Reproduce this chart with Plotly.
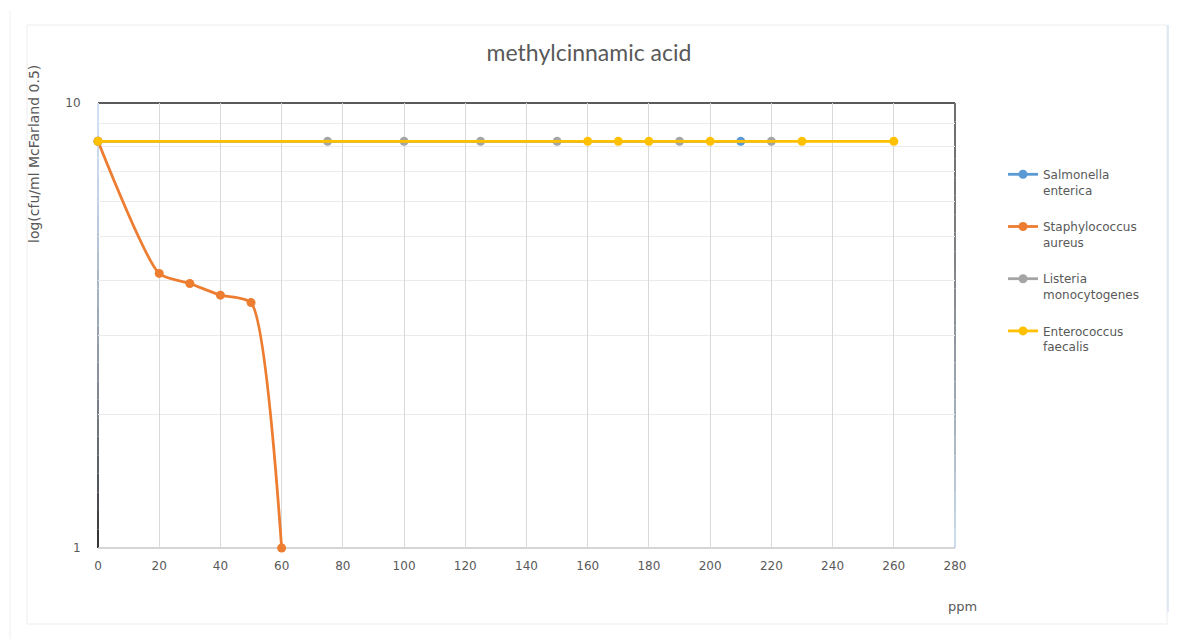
import plotly.graph_objects as go

# ---- data: log(cfu/ml) versus concentration (ppm) ----
ppm_salmonella = [0, 210]
cfu_salmonella = [8.2, 8.2]

ppm_staph = [0, 20, 30, 40, 50, 60]
cfu_staph = [8.2, 4.14, 3.93, 3.70, 3.56, 1.0]

ppm_listeria = [0, 75, 100, 125, 150, 190, 220]
cfu_listeria = [8.2, 8.2, 8.2, 8.2, 8.2, 8.2, 8.2]

ppm_enterococcus = [0, 160, 170, 180, 200, 230, 260]
cfu_enterococcus = [8.2, 8.2, 8.2, 8.2, 8.2, 8.2, 8.2]

series_names = [
    "Salmonella<br>enterica",
    "Staphylococcus<br>aureus",
    "Listeria<br>monocytogenes",
    "Enterococcus<br>faecalis",
]
series_colors = ["#5B9BD5", "#ED7D31", "#A5A5A5", "#FFC000"]

x_tick_vals = list(range(0, 281, 20))
y_tick_vals = [1, 10]
y_minor_vals = [2, 3, 4, 5, 6, 7, 8, 9]

W, H = 1184, 639
L, R, T, B = 98, 955, 103, 548  # plot area in pixels

TXT = "#595959"


def px(x):
    return (x - L) / (R - L)


def py(y):
    return (B - y) / (B - T)


fig = go.Figure()
datasets = [
    (ppm_salmonella, cfu_salmonella, "linear"),
    (ppm_staph, cfu_staph, "spline"),
    (ppm_listeria, cfu_listeria, "linear"),
    (ppm_enterococcus, cfu_enterococcus, "linear"),
]
for i, ((xs, ys, shape), name, color) in enumerate(zip(datasets, series_names, series_colors)):
    fig.add_trace(go.Scatter(
        x=xs, y=ys, name=name, mode="lines+markers",
        line=dict(color=color, width=2.8, shape=shape, smoothing=0.6),
        marker=dict(color=color, size=9),
        legendgroup=f"g{i}", cliponaxis=False,
    ))


def hex_to_rgb(h):
    h = h.lstrip("#")
    return tuple(int(h[k:k + 2], 16) for k in (0, 2, 4))


def mix(c1, c2, t):
    a, b = hex_to_rgb(c1), hex_to_rgb(c2)
    return "rgb(%d,%d,%d)" % tuple(round(a[k] + (b[k] - a[k]) * t) for k in range(3))


shapes = []


def faded_vline(xp, y_top, y_bot, c_top, c_bot, width, n=24):
    for k in range(n):
        y0 = y_top + (y_bot - y_top) * k / n
        y1 = y_top + (y_bot - y_top) * (k + 1) / n
        t = (k + 0.5) / n
        shapes.append(dict(type="line", xref="paper", yref="paper",
                           x0=px(xp), x1=px(xp), y0=py(y0), y1=py(y1),
                           line=dict(color=mix(c_top, c_bot, t ** 1.6), width=width),
                           layer="below"))


# outer chart frame
shapes.append(dict(type="rect", xref="paper", yref="paper",
                   x0=px(27), x1=px(1167), y0=py(624), y1=py(25),
                   line=dict(color="#ededed", width=1), layer="below"))
shapes.append(dict(type="line", xref="paper", yref="paper",
                   x0=px(10), x1=px(10), y0=py(639), y1=py(10),
                   line=dict(color="#f0f0f0", width=1), layer="below"))
shapes.append(dict(type="line", xref="paper", yref="paper",
                   x0=px(1168), x1=px(1168), y0=py(612), y1=py(25),
                   line=dict(color="#d6e4f5", width=1.5)))

# plot-area border: dark top, shaded sides, light bottom
shapes.append(dict(type="line", xref="paper", yref="paper",
                   x0=0, x1=1, y0=1, y1=1,
                   line=dict(color="#5a5a5a", width=2), layer="below"))
faded_vline(L, T, B, "#cfe0f3", "#303030", 2)
faded_vline(R, T, B, "#6e6e6e", "#cfe0f3", 2)
shapes.append(dict(type="line", xref="paper", yref="paper",
                   x0=0, x1=1, y0=0, y1=0,
                   line=dict(color="#c8c8c8", width=1.5), layer="below"))

fig.update_layout(
    width=W, height=H,
    margin=dict(l=L, r=W - R, t=T, b=H - B, pad=0),
    paper_bgcolor="white", plot_bgcolor="white",
    title=dict(text="methylcinnamic acid", x=(589) / W, xanchor="center",
               y=1 - 53 / H, yanchor="middle",
               font=dict(family="Lato", size=23, color=TXT)),
    xaxis=dict(
        range=[0, 280], tickvals=x_tick_vals, showgrid=True,
        gridcolor="#d9d9d9", gridwidth=1, zeroline=False, showline=False,
        ticks="outside", ticklen=7, tickcolor="rgba(0,0,0,0)",
        tickfont=dict(family="DejaVu Sans", size=12, color=TXT),
    ),
    yaxis=dict(
        type="log", range=[0, 1], tickvals=y_tick_vals, ticktext=["1", "10"],
        showgrid=False, zeroline=False, showline=False,
        ticks="outside", ticklen=14, tickcolor="rgba(0,0,0,0)",
        tickfont=dict(family="DejaVu Sans", size=12, color=TXT),
        minor=dict(tickvals=y_minor_vals, showgrid=True, gridcolor="#ebebeb", gridwidth=1),
    ),
    legend=dict(
        x=px(1003), y=py(160), xanchor="left", yanchor="top",
        font=dict(family="DejaVu Sans", size=12, color=TXT),
        tracegroupgap=18, valign="top", itemwidth=30,
        bgcolor="rgba(0,0,0,0)",
    ),
    shapes=shapes,
    annotations=[
        dict(text="log(cfu/ml McFarland 0.5)", xref="paper", yref="paper",
             x=px(34), y=py(154), xanchor="center", yanchor="middle",
             textangle=-90, showarrow=False,
             font=dict(family="DejaVu Sans", size=14, color=TXT)),
        dict(text="ppm", xref="paper", yref="paper",
             x=px(962), y=py(606), xanchor="center", yanchor="middle",
             showarrow=False,
             font=dict(family="DejaVu Sans", size=13, color=TXT)),
    ],
)

fig.write_html("out.html")
